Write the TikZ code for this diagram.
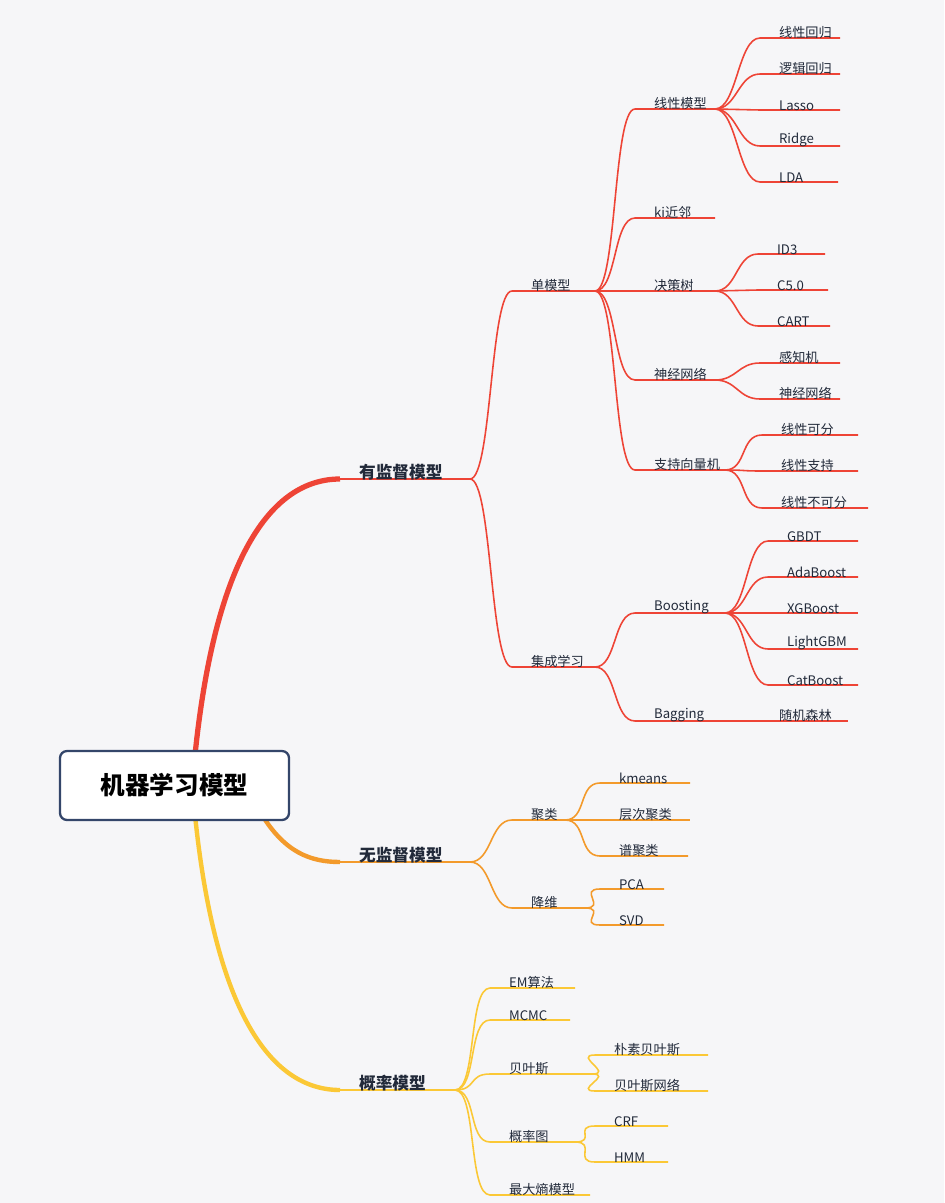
\documentclass[tikz,border=0pt]{standalone}
\usepackage{fontspec}
\setmainfont{Noto Sans CJK SC}
\usetikzlibrary{calc}
\definecolor{bgc}{HTML}{F6F6F8}
\definecolor{redc}{HTML}{EE4436}
\definecolor{orgc}{HTML}{F39A2B}
\definecolor{ylwc}{HTML}{FBC836}
\definecolor{boxc}{HTML}{34466A}
\definecolor{txtc}{HTML}{222A3A}
\tikzset{
  link/.style={line width=0.9pt},
  lbl/.style={inner sep=1pt, font=\fontsize{7.5}{8}\selectfont, text=txtc, anchor=south west},
  mainlbl/.style={inner sep=1pt, font=\fontsize{9.5}{10}\bfseries\selectfont, text=txtc, anchor=south west},
}
% #1 colour, #2 parent, #3 name, #4 x start, #5 x end, #6 y, #7 text
\newcommand\leaf[7]{%
  \coordinate (#3-s) at (#4,#6);
  \coordinate (#3) at (#5,#6);
  \draw[#1, link] (#2) .. controls ($(#2)+(22,0)$) and ($(#3-s)+(-22,0)$) .. (#3-s) -- (#3);
  \node[lbl] (#3-t) at ($(#3-s)+(17,3)$) {#7};
}
\begin{document}
\begin{tikzpicture}[x=0.02cm, y=-0.02cm]
  \fill[bgc] (0,0) rectangle (944,1203);

  %%%%% main branches %%%%%
  \coordinate (sup-s) at (340,479); \coordinate (sup) at (470,479);
  \coordinate (uns-s) at (340,862); \coordinate (uns) at (470,862);
  \coordinate (prb-s) at (340,1090); \coordinate (prb) at (455,1090);
  \draw[redc, line width=3pt] (195,755) .. controls (215,560) and (270,479) .. (sup-s);
  \draw[orgc, line width=2.5pt] (262,815) .. controls (285,852) and (310,862) .. (uns-s);
  \draw[ylwc, line width=2.5pt] (195,815) .. controls (215,1010) and (270,1090) .. (prb-s);
  \draw[redc, link] (sup-s) -- (sup);
  \draw[orgc, link] (uns-s) -- (uns);
  \draw[ylwc, link] (prb-s) -- (prb);
  \node[mainlbl] (sup-t) at ($(sup-s)+(17,3)$) {有监督模型};
  \node[mainlbl] (uns-t) at ($(uns-s)+(17,3)$) {无监督模型};
  \node[mainlbl] (prb-t) at ($(prb-s)+(17,3)$) {概率模型};

  \node[draw=boxc, fill=white, line width=1.3pt, rounded corners=4pt,
        minimum width=229*0.02cm, minimum height=69*0.02cm,
        font=\fontsize{14}{15}\bfseries\selectfont, text=black] (root) at (174.5,785.5) {机器学习模型};

  %%%%% supervised %%%%%
  \leaf{redc}{sup}{single}{512}{595}{291}{单模型}
  \leaf{redc}{sup}{ens}{512}{595}{667}{集成学习}
  \leaf{redc}{single}{linm}{635}{715}{109}{线性模型}
  \leaf{redc}{single}{knn}{635}{715}{218}{ki近邻}
  \leaf{redc}{single}{tree}{635}{715}{291}{决策树}
  \leaf{redc}{single}{nn}{635}{715}{380}{神经网络}
  \leaf{redc}{single}{svm}{635}{725}{470}{支持向量机}
  \leaf{redc}{linm}{lr}{760}{840}{38}{线性回归}
  \leaf{redc}{linm}{logr}{760}{840}{74}{逻辑回归}
  \leaf{redc}{linm}{lasso}{760}{840}{110}{Lasso}
  \leaf{redc}{linm}{ridge}{760}{840}{146}{Ridge}
  \leaf{redc}{linm}{lda}{760}{838}{182}{LDA}
  \leaf{redc}{tree}{id3}{758}{825}{254}{ID3}
  \leaf{redc}{tree}{c50}{758}{828}{290}{C5.0}
  \leaf{redc}{tree}{cart}{758}{830}{326}{CART}
  \leaf{redc}{nn}{perc}{760}{840}{363}{感知机}
  \leaf{redc}{nn}{nnet}{760}{840}{399}{神经网络}
  \leaf{redc}{svm}{sv1}{762}{858}{435}{线性可分}
  \leaf{redc}{svm}{sv2}{762}{858}{471}{线性支持}
  \leaf{redc}{svm}{sv3}{762}{868}{508}{线性不可分}
  \leaf{redc}{ens}{boost}{635}{725}{613}{Boosting}
  \leaf{redc}{ens}{bag}{635}{760}{721}{Bagging}
  \leaf{redc}{boost}{gbdt}{768}{858}{541}{GBDT}
  \leaf{redc}{boost}{ada}{768}{858}{577}{AdaBoost}
  \leaf{redc}{boost}{xgb}{768}{858}{613}{XGBoost}
  \leaf{redc}{boost}{lgbm}{768}{858}{649}{LightGBM}
  \leaf{redc}{boost}{cat}{768}{858}{685}{CatBoost}
  \leaf{redc}{bag}{rf}{760}{848}{721}{随机森林}

  %%%%% unsupervised %%%%%
  \leaf{orgc}{uns}{clu}{512}{565}{820}{聚类}
  \leaf{orgc}{uns}{dim}{512}{585}{908}{降维}
  \leaf{orgc}{clu}{km}{600}{690}{783}{kmeans}
  \leaf{orgc}{clu}{hier}{600}{690}{820}{层次聚类}
  \leaf{orgc}{clu}{spec}{600}{688}{856}{谱聚类}
  \leaf{orgc}{dim}{pca}{600}{664}{889}{PCA}
  \leaf{orgc}{dim}{svd}{600}{664}{925}{SVD}

  %%%%% probabilistic %%%%%
  \leaf{ylwc}{prb}{em}{490}{575}{988}{EM算法}
  \leaf{ylwc}{prb}{mcmc}{490}{570}{1020}{MCMC}
  \leaf{ylwc}{prb}{bayes}{490}{592}{1074}{贝叶斯}
  \leaf{ylwc}{prb}{pgm}{490}{575}{1142}{概率图}
  \leaf{ylwc}{prb}{maxent}{490}{590}{1195}{最大熵模型}
  \leaf{ylwc}{bayes}{nb}{595}{708}{1055}{朴素贝叶斯}
  \leaf{ylwc}{bayes}{bn}{595}{708}{1091}{贝叶斯网络}
  \leaf{ylwc}{pgm}{crf}{595}{668}{1126}{CRF}
  \leaf{ylwc}{pgm}{hmm}{595}{668}{1162}{HMM}
\end{tikzpicture}
\end{document}
